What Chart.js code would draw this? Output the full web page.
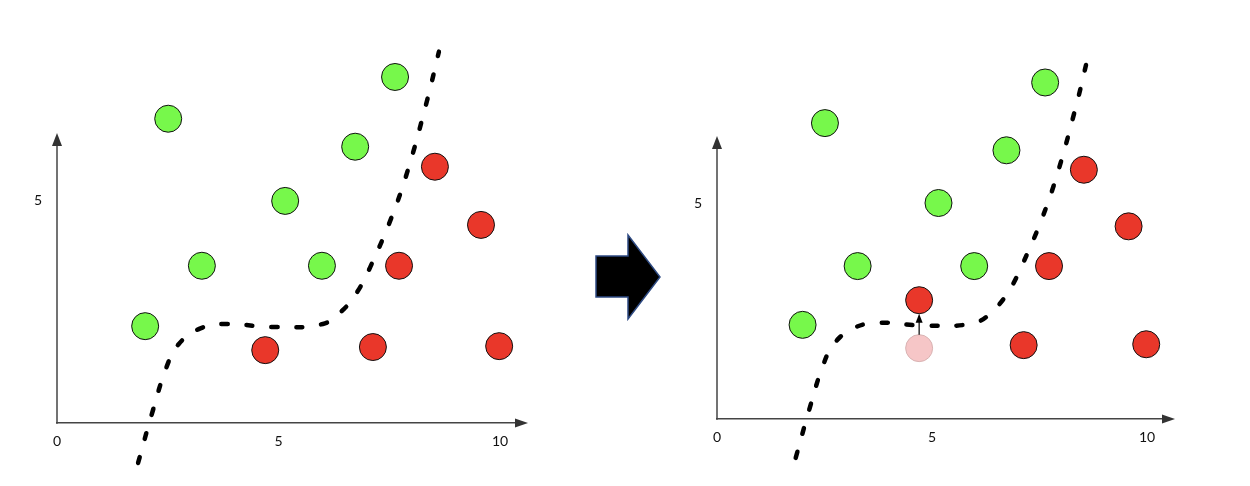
<!DOCTYPE html>
<html>
<head>
<meta charset="utf-8">
<script src="https://cdn.jsdelivr.net/npm/chart.js@4/dist/chart.umd.min.js"></script>
<style>
  html, body { margin: 0; padding: 0; background: #fff; }
  #wrap { position: relative; width: 1250px; height: 486px; overflow: hidden; }
  #c1 { position: absolute; left: 0; top: 0; }
  #c2 { position: absolute; left: 625px; top: 0; }
  #mid { position: absolute; left: 0; top: 0; pointer-events: none; }
</style>
</head>
<body>
<div id="wrap">
  <canvas id="c1" width="625" height="486"></canvas>
  <canvas id="c2" width="625" height="486"></canvas>
  <svg id="mid" width="1250" height="486">
    <polygon points="596,256 628,256 628,235 660,277 628,319 628,297 596,297"
             fill="#000" stroke="#2E4A82" stroke-width="1.5" stroke-linejoin="miter"/>
  </svg>
</div>
<script>
// ---- data ----
const greenX = [2.51, 7.63, 6.73, 5.15, 3.27, 5.98, 1.99];
const greenY = [6.85, 7.79, 6.22, 5.00, 3.54, 3.54, 2.18];
const redX = [8.53, 9.57, 7.72, 4.70, 7.13, 9.98];
const redY = [5.77, 4.46, 3.54, 1.64, 1.71, 1.73];
const movedIndex = 3;       // red point that is moved in the right panel
const movedY = 2.75;        // its new y value
const curveX = [1.83, 2.14, 2.48, 2.75, 3.21, 3.77, 4.88, 6.00, 6.48, 6.82, 7.07, 7.52, 7.90, 8.35, 8.62];
const curveY = [-0.90, 0.20, 1.28, 1.78, 2.12, 2.23, 2.16, 2.23, 2.57, 3.02, 3.51, 4.55, 5.63, 7.25, 8.36];
const xTicks = [0, 5, 10];
const yTicks = [5];

// ---- helpers ----
const zip = (xs, ys) => xs.map((x, i) => ({ x: x, y: ys[i] }));
const GREEN = '#77F84B', RED = '#E9372A', PINK = '#F6C6C7';
const AXIS = '#444';

const axisArrows = {
  id: 'axisArrows',
  afterDraw(chart) {
    const { ctx, chartArea: a } = chart;
    const o = chart.options.plugins.axisArrows;
    const yTop = o.yAxisTop;
    ctx.save();
    ctx.strokeStyle = AXIS; ctx.lineWidth = 1.5;
    ctx.beginPath(); ctx.moveTo(a.left, a.bottom + 0.75); ctx.lineTo(a.left, yTop); ctx.stroke();
    ctx.fillStyle = '#333';
    ctx.beginPath();
    ctx.moveTo(a.right + 12, a.bottom);
    ctx.lineTo(a.right - 1, a.bottom - 4.5);
    ctx.lineTo(a.right - 1, a.bottom + 4.5);
    ctx.closePath(); ctx.fill();
    ctx.beginPath();
    ctx.moveTo(a.left, yTop - 12);
    ctx.lineTo(a.left - 5, yTop + 1);
    ctx.lineTo(a.left + 5, yTop + 1);
    ctx.closePath(); ctx.fill();
    ctx.restore();
  }
};

const moveArrow = {
  id: 'moveArrow',
  afterDatasetsDraw(chart) {
    if (!chart.options.plugins.moveArrow || !chart.options.plugins.moveArrow.show) return;
    const { ctx, scales } = chart;
    const px = scales.x.getPixelForValue(redX[movedIndex]);
    const y0 = scales.y.getPixelForValue(redY[movedIndex]) - 13.5;
    const y1 = scales.y.getPixelForValue(movedY) + 13.5;
    ctx.save();
    ctx.strokeStyle = '#000'; ctx.fillStyle = '#000'; ctx.lineWidth = 1.2;
    ctx.beginPath(); ctx.moveTo(px, y0); ctx.lineTo(px, y1 + 8); ctx.stroke();
    ctx.beginPath();
    ctx.moveTo(px, y1); ctx.lineTo(px - 3.5, y1 + 9); ctx.lineTo(px + 3.5, y1 + 9);
    ctx.closePath(); ctx.fill();
    ctx.restore();
  }
};

function pointSet(data, fill, border) {
  return {
    type: 'scatter', data: data, clip: false, order: 1,
    pointRadius: 13.5, pointHoverRadius: 13.5,
    pointBackgroundColor: fill, pointBorderColor: border, pointBorderWidth: 1,
    showLine: false
  };
}
function curveSet() {
  return {
    type: 'line', data: zip(curveX, curveY), clip: false, order: 3,
    borderColor: '#000', borderWidth: 4.5, borderDash: [6, 19], borderCapStyle: 'round',
    tension: 0.4, pointRadius: 0, fill: false
  };
}

function makeChart(id, cfg) {
  const font = { family: 'Lato, "DejaVu Sans", sans-serif', size: 14 };
  return new Chart(document.getElementById(id), {
    type: 'scatter',
    data: { datasets: cfg.datasets },
    options: {
      responsive: false, animation: false,
      layout: { padding: { left: 0, top: cfg.top, right: cfg.right, bottom: 0 } },
      plugins: {
        legend: { display: false }, tooltip: { enabled: false },
        moveArrow: { show: cfg.arrow }, axisArrows: { yAxisTop: cfg.yAxisTop }
      },
      scales: {
        x: {
          type: 'linear', min: 0, max: cfg.xmax,
          grid: { display: false, drawTicks: false },
          border: { display: true, color: AXIS, width: 1.5 },
          afterBuildTicks: s => { s.ticks = xTicks.map(v => ({ value: v })); },
          afterFit: s => { s.height = cfg.xh; },
          ticks: { color: '#111', font: font, padding: 10, maxRotation: 0 }
        },
        y: {
          type: 'linear', min: 0, max: cfg.ymax,
          grid: { display: false, drawTicks: false },
          border: { display: false },
          afterBuildTicks: s => { s.ticks = yTicks.map(v => ({ value: v })); },
          afterFit: s => { s.width = cfg.yw; },
          ticks: { color: '#111', font: font, padding: 15 }
        }
      }
    },
    plugins: [axisArrows, moveArrow]
  });
}

// left panel
makeChart('c1', {
  top: 41, right: 109, xh: 63, yw: 57, xmax: 10.36, ymax: 8.6, yAxisTop: 145, arrow: false,
  datasets: [
    curveSet(),
    pointSet(zip(greenX, greenY), GREEN, '#111'),
    pointSet(zip(redX, redY), RED, '#111')
  ]
});

// right panel
const redAfterY = redY.map((v, i) => i === movedIndex ? movedY : v);
makeChart('c2', {
  top: 47.5, right: 87, xh: 67, yw: 92, xmax: 10.37, ymax: 8.6, yAxisTop: 148, arrow: true,
  datasets: [
    curveSet(),
    pointSet([{ x: redX[movedIndex], y: redY[movedIndex] }], PINK, '#D8B3B3'),
    pointSet(zip(greenX, greenY), GREEN, '#111'),
    pointSet(zip(redX, redAfterY), RED, '#111')
  ]
});
</script>
</body>
</html>
